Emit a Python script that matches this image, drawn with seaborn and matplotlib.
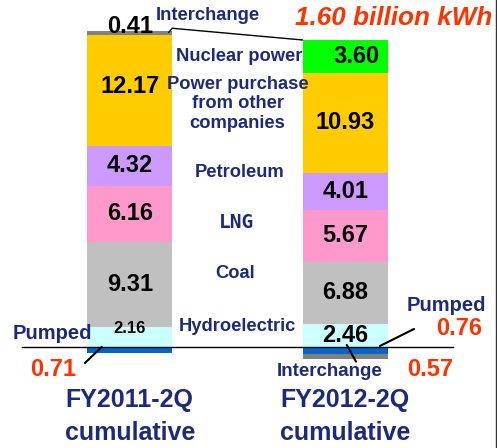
import pandas as pd
import matplotlib.pyplot as plt
import seaborn as sns

# data (billion kWh)
periods = ["FY2011-2Q", "FY2012-2Q"]
sources = ["Hydroelectric", "Coal", "LNG", "Petroleum",
           "Power purchase\nfrom other\ncompanies", "Nuclear power", "Interchange"]
fy2011 = [2.16, 9.31, 6.16, 4.32, 12.17, 0.00, 0.41]
fy2012 = [2.46, 6.88, 5.67, 4.01, 10.93, 3.60, 0.00]
pumped = [0.71, 0.76]
interchange_out = [0.00, 0.57]
diff_label = "1.60 billion kWh"

colors = ["#CCFFFF", "#C0C0C0", "#FF99CC", "#CC99FF", "#FFCC00", "#00FF00", "#808080"]
pumped_color = "#0066CC"
navy = "#1C2A7C"
red = "#FF3300"

df = pd.DataFrame({"source": sources, periods[0]: fy2011, periods[1]: fy2012})

sns.set_style("white")
plt.rcParams["font.family"] = ["Liberation Sans", "DejaVu Sans"]
plt.rcParams["font.weight"] = "bold"

fig = plt.figure(figsize=(4.97, 4.48), dpi=100)
ax = fig.add_axes([22 / 497, 0, 431 / 497, 1])

W = 0.395
bottom = [0.0, 0.0]
for i, row in df.iterrows():
    vals = [row[periods[0]], row[periods[1]]]
    sns.barplot(x=periods, y=vals, bottom=bottom, color=colors[i], width=W,
                saturation=1, linewidth=0, errorbar=None, ax=ax, zorder=2)
    for j, v in enumerate(vals):
        if v <= 0:
            continue
        y = bottom[j] + v / 2
        size = 17
        xx = j
        if j == 0 and row["source"] == "Interchange":
            y = bottom[j] + v + 0.45
        if j == 0 and row["source"] == "Hydroelectric":
            y = v - 0.1
            size = 12
        if j == 0 and row["source"].startswith("Power"):
            y += 0.45
        if j == 1 and row["source"] == "Nuclear power":
            xx = 1.05
        ax.text(xx, y, f"{v:.2f}", ha="center", va="center", fontsize=size,
                fontweight="bold", color="black", zorder=5)
    bottom = [bottom[0] + vals[0], bottom[1] + vals[1]]
totals = bottom

# below the axis: pumped storage and interchange out
sns.barplot(x=periods, y=[-p for p in pumped], color=pumped_color, width=W,
            saturation=1, linewidth=0, errorbar=None, ax=ax, zorder=2)
sns.barplot(x=periods, y=[-v for v in interchange_out], bottom=[-p for p in pumped],
            color="#808080", width=W, saturation=1, linewidth=0, errorbar=None,
            ax=ax, zorder=2)

ax.set_xlim(-0.5, 1.5)
ax.set_ylim(-11.04, 37.92)
for s in ["left", "right", "top"]:
    ax.spines[s].set_visible(False)
ax.spines["bottom"].set_position(("data", 0))
ax.spines["bottom"].set_color("black")
ax.spines["bottom"].set_linewidth(1)
ax.spines["bottom"].set_zorder(3)
ax.set_xticks([-0.5, 0.5, 1.5])
ax.set_xticklabels([])
ax.tick_params(axis="x", direction="in", length=4, width=1, color="black")
ax.set_yticks([])
ax.set_xlabel("")
ax.set_ylabel("")

# source names in the middle
mid_labels = [
    (0.50, 2.19, "Hydroelectric"),
    (0.49, 7.98, "Coal"),
    (0.51, 19.1, "Petroleum"),
    (0.50, 26.56, "Power purchase\nfrom other\ncompanies"),
    (0.51, 31.8, "Nuclear power"),
    (0.36, 36.2, "Interchange"),
]
for x, y, t in mid_labels:
    ax.text(x, y, t, ha="center", va="center", fontsize=13.2, fontweight="bold",
            color=navy, linespacing=1.2)
ax.text(0.495, 13.55, "LNG", ha="center", va="center", fontsize=14,
        fontweight="bold", color=navy, family="DejaVu Sans Mono")

# connector between bar tops
ax.plot([0.18, W / 2], [totals[0] - 0.15, totals[0] + 0.3], color="black", lw=1)
ax.plot([W / 2, 1 - W / 2], [totals[0] + 0.3, totals[1]], color="black", lw=1)

# pumped / interchange annotations
ax.text(-0.361, 1.42, "Pumped", ha="center", va="center", fontsize=14.5,
        fontweight="bold", color=navy)
ax.text(-0.356, -2.51, f"{pumped[0]:.2f}", ha="center", va="center",
        fontsize=17, fontweight="bold", color=red)
ax.plot([-0.208, -0.13], [-1.75, 0], color="black", lw=1.5)

ax.text(1.4675, 4.48, "Pumped", ha="center", va="center", fontsize=14.5,
        fontweight="bold", color=navy)
ax.text(1.528, 1.97, f"{pumped[1]:.2f}", ha="center", va="center",
        fontsize=17, fontweight="bold", color=red)
ax.plot([1.161, 1.319], [0.11, 1.97], color="black", lw=1.5)

ax.text(0.929, -2.73, "Interchange", ha="center", va="center", fontsize=13.5,
        fontweight="bold", color=navy)
ax.text(1.393, -2.51, f"{interchange_out[1]:.2f}", ha="center", va="center",
        fontsize=17, fontweight="bold", color=red)
ax.plot([1.007, 1.05], [0.22, -1.6], color="black", lw=1.5)

# category labels
for j, p in enumerate(periods):
    ax.text(j, -5.79, p, ha="center", va="center", fontsize=18,
            fontweight="bold", color=navy)
    ax.text(j, -9.4, "cumulative", ha="center", va="center", fontsize=18,
            fontweight="bold", color=navy)

fig.text(492 / 497, 1 - 18 / 448, diff_label, ha="right", va="center",
         fontsize=18.8, fontweight="bold", fontstyle="italic", color=red)
fig.add_artist(plt.Line2D([495.5 / 497] * 2, [0, 1], color="#333333", lw=1))

fig.savefig("out.png", dpi=100)
